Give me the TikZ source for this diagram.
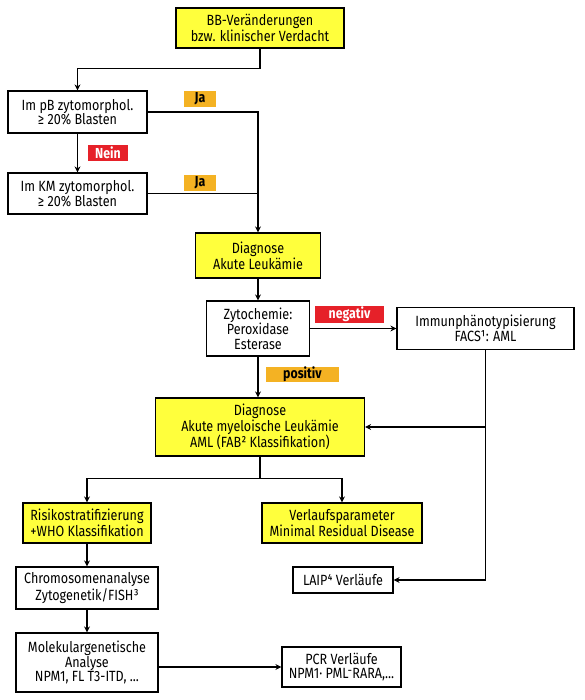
\documentclass[tikz,border=0pt]{standalone}
\usepackage{fontspec}
\setmainfont[FakeStretch=0.85]{Fira Sans}
\usetikzlibrary{arrows.meta}
\definecolor{boxyellow}{HTML}{FFFF3C}
\definecolor{tagorange}{HTML}{F4B223}
\definecolor{tagred}{HTML}{E62129}

\begin{document}
\begin{tikzpicture}[x=1pt, y=-1pt, line width=1.2pt, >={Stealth[length=6pt,width=6pt]},
    main/.style = {draw, align=center, inner sep=1pt, font=\fontsize{14.8}{14.6}\selectfont},
    hl/.style = {main, fill=boxyellow},
    tag/.style = {inner sep=0pt, font=\fontsize{14.5}{14.5}\selectfont\bfseries}]
    \useasboundingbox (0,0) rectangle (584,700);
		\node[hl, minimum width=168pt, minimum height=40pt] (bb) at (260,28) {BB-Veränderungen\\bzw. klinischer Verdacht};
		\node[main, minimum width=139pt, minimum height=42pt] (pb) at (77.5,112) {Im pB zytomorphol.\\≥ 20\% Blasten};
		\node[main, minimum width=139pt, minimum height=41pt] (km) at (77.5,193.5) {Im KM zytomorphol.\\≥ 20\% Blasten};
		\node[hl, minimum width=125pt, minimum height=45pt] (diag) at (258,255.5) {Diagnose\\Akute Leukämie};
		\node[main, minimum width=103pt, minimum height=55pt] (zyto) at (258,328.5) {Zytochemie:\\Peroxidase\\Esterase};
		\node[main, minimum width=177pt, minimum height=42pt] (immun) at (485.5,328.5) {Immunphänotypisierung\\FACS¹: AML};
		\node[hl, minimum width=209pt, minimum height=58pt] (aml) at (260,427) {Diagnose\\Akute myeloische Leukämie\\AML (FAB² Klassifikation)};
		\node[hl, minimum width=128pt, minimum height=40pt] (risiko) at (87,523) {Risikostratifizierung\\+WHO Klassifikation};
		\node[hl, minimum width=160pt, minimum height=40pt] (verlauf) at (342,523) {Verlaufsparameter\\Minimal Residual Disease};
		\node[main, minimum width=142pt, minimum height=42pt] (chromo) at (87,588) {Chromosomenanalyse\\Zytogenetik/FISH³};
		\node[main, minimum width=142pt, minimum height=59pt] (molek) at (87,662.5) {Molekulargenetische\\Analyse\\NPM1, FL T3-ITD, ...};
		\node[main, minimum width=119pt, minimum height=40pt] (pcr) at (341.5,667) {PCR Verläufe\\NPM1· PML⁻RARA,...};
		\node[main, minimum width=100pt, minimum height=26pt] (laip) at (343,580) {LAIP⁴ Verläufe};
		
		% Antwort-Etiketten
		\node[tag, fill=tagorange, minimum width=32pt, minimum height=16pt] (ja1) at (200,99) {Ja};
		\node[tag, fill=tagred, text=white, minimum width=40pt, minimum height=16pt] (nein) at (108,153) {Nein};
		\node[tag, fill=tagorange, minimum width=32pt, minimum height=16pt] (ja2) at (200,183) {Ja};
		\node[tag, fill=tagred, text=white, minimum width=69pt, minimum height=17pt] (neg) at (349.5,314.5) {negativ};
		\node[tag, fill=tagorange, minimum width=73pt, minimum height=15pt] (pos) at (302.5,374.5) {positiv};
		
		\draw[->] (bb.south) -- ++(0,20) -| (pb.north);
		\draw[->] (pb.east) -| (diag.north);
		\draw (km.east) -- (km.east -| diag.north);
		\draw[->] (pb.south) -- (km.north);
		\draw[->] (diag.south) -- (zyto.north);
		\draw[->] (zyto.east) -- (immun.west);
		\draw[->] (zyto.south) -- (zyto.south |- aml.north);
		\draw[->] (immun.south) |- (laip.east);
		\draw[->] (immun.south |- aml.east) -- (aml.east);
		\draw (aml.south) -- ++(0,22) coordinate (split);
		\draw[->] (split) -| (risiko.north);
		\draw[->] (split) -| (verlauf.north);
		\draw[->] (risiko.south) -- (chromo.north);
		\draw[->] (chromo.south) -- (molek.north);
		\draw[->] (molek.east |- pcr.west) -- (pcr.west);
	\end{tikzpicture}
\end{document}
